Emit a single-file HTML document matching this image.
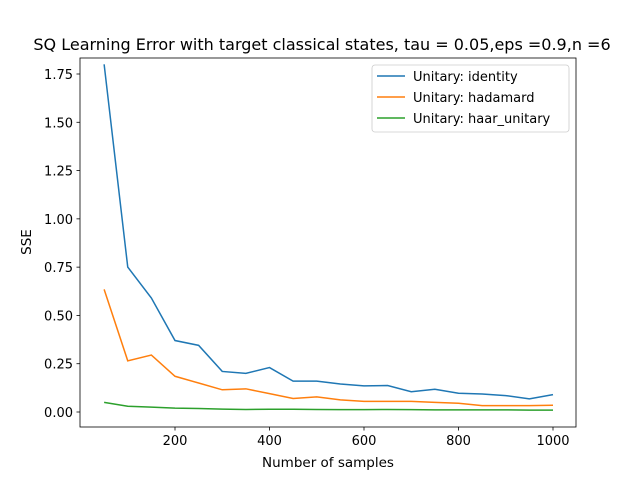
<!DOCTYPE html>
<html><head><meta charset="utf-8"><style>
body{margin:0;background:#fff;}
svg text{font-family:"DejaVu Sans","Liberation Sans",sans-serif;}
</style></head><body>
<svg id="chart" width="640" height="480" xmlns="http://www.w3.org/2000/svg">
<rect width="640" height="480" fill="#fff"/>
<text x="322" y="50" font-size="16" text-anchor="middle">SQ Learning Error with target classical states, tau = 0.05,eps =0.9,n =6</text>
<g id="plot"></g>
<text x="328" y="467" font-size="13.5" text-anchor="middle">Number of samples</text>
<text x="31" y="242" font-size="13.5" text-anchor="middle" transform="rotate(-90 31 242)">SSE</text>
</svg>
<script>
const xs=[50,100,150,200,250,300,350,400,450,500,550,600,650,700,750,800,850,900,950,1000];
const identity=[1.80,0.75,0.59,0.37,0.345,0.21,0.20,0.23,0.16,0.16,0.145,0.135,0.137,0.105,0.118,0.097,0.093,0.085,0.068,0.09];
const hadamard=[0.635,0.265,0.295,0.185,0.15,0.115,0.12,0.095,0.07,0.078,0.063,0.055,0.055,0.055,0.05,0.045,0.033,0.033,0.033,0.035];
const haar=[0.05,0.03,0.025,0.02,0.018,0.015,0.013,0.014,0.014,0.013,0.012,0.012,0.013,0.012,0.011,0.011,0.011,0.011,0.01,0.01];
const xTicks=[200,400,600,800,1000];
const yTicks=[0,0.25,0.5,0.75,1.0,1.25,1.5,1.75];
const seriesNames=["Unitary: identity","Unitary: hadamard","Unitary: haar_unitary"];
const colors=["#1f77b4","#ff7f0e","#2ca02c"];
const L=80,R=576,T=58,B=427;
const X=v=>175+(v-200)*(553-175)/800;
const Y=v=>412-v*(412-74)/1.75;
const ns="http://www.w3.org/2000/svg";
const g=document.getElementById('plot');
function mk(t,a){const e=document.createElementNS(ns,t);for(const k in a)e.setAttribute(k,a[k]);g.appendChild(e);return e;}
[identity,hadamard,haar].forEach((s,i)=>{
 const p=mk('polyline',{points:s.map((v,j)=>X(xs[j])+','+Y(v)).join(' '),fill:'none',stroke:colors[i],'stroke-width':1.5});
 
 
});
const fr=mk('rect',{x:L,y:T,width:R-L,height:B-T,fill:'none',stroke:'#000','stroke-width':0.8});


xTicks.forEach(v=>{
 mk('line',{x1:X(v),x2:X(v),y1:B,y2:B+3.5,stroke:'#000','stroke-width':0.8});
 const t=mk('text',{x:X(v),y:B+18,'font-size':13,'text-anchor':'middle'});t.textContent=v;
 
 
});
yTicks.forEach(v=>{
 mk('line',{x1:L-3.5,x2:L,y1:Y(v),y2:Y(v),stroke:'#000','stroke-width':0.8});
 const t=mk('text',{x:L-7,y:Y(v)+5,'font-size':13,'text-anchor':'end'});t.textContent=v.toFixed(2);
 
 
});
const lg=mk('rect',{x:372,y:65,width:197,height:67,rx:3,fill:'#fff',stroke:'#ccc','stroke-width':0.8});


seriesNames.forEach((n,i)=>{
 const y=76+i*21;
 mk('line',{x1:377,x2:405,y1:y,y2:y,stroke:colors[i],'stroke-width':1.5});
 const t=mk('text',{x:413,y:y+5,'font-size':13});t.textContent=n;
 
 
});
</script>
</body></html>
